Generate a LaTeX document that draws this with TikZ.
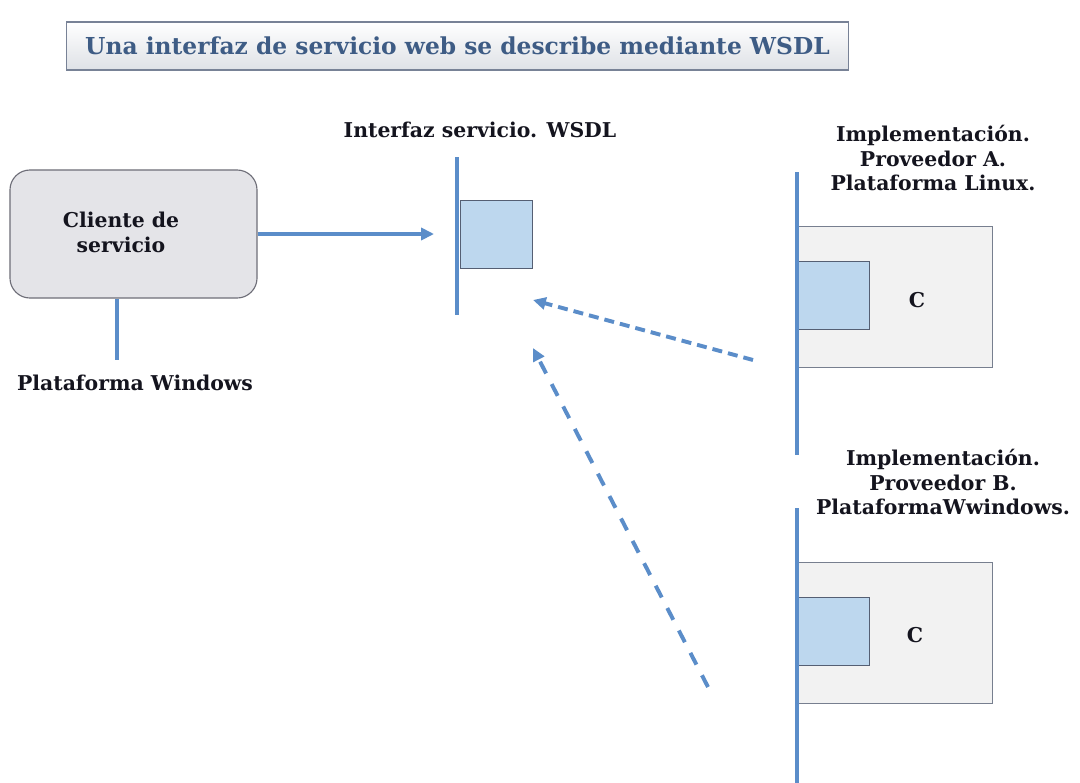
\documentclass[tikz,border=0pt]{standalone}
\usepackage{fontspec}
\setmainfont{DejaVu Serif}
\usetikzlibrary{positioning, arrows.meta, shapes}

\definecolor{linea}{RGB}{91,141,201}
\definecolor{cuadro}{RGB}{189,215,238}
\definecolor{borde}{RGB}{85,95,115}
\definecolor{caja}{RGB}{242,242,242}
\definecolor{cliente}{RGB}{228,228,232}
\definecolor{azultitulo}{RGB}{62,92,133}

\begin{document}
\begin{tikzpicture}[x=0.025cm, y=-0.025cm,
	texto/.style={font=\bfseries\fontsize{14.5}{17.7}\selectfont, align=center, text={rgb,255:red,20;green,20;blue,30}, inner sep=0pt},
	barra/.style={draw=linea, line width=2.8pt},
	flecha/.style={draw=linea, line width=2.8pt, -{Triangle[length=0.32cm, width=0.3cm]}},
	discontinua/.style={flecha, dash pattern=on 0.25cm off 0.15cm},
	interfaz/.style={draw=borde, fill=cuadro, line width=0.7pt, minimum width=1.8cm, minimum height=1.7cm, inner sep=0pt},
	impl/.style={draw=borde!80, fill=caja, line width=0.7pt, minimum width=4.875cm, minimum height=3.5cm, inner sep=0pt}]
\useasboundingbox (0,0) rectangle (1080,783);

% titulo
\node[draw={rgb,255:red,120;green,130;blue,150}, line width=0.8pt, top color=white, bottom color={rgb,255:red,222;green,225;blue,230},
	minimum width=19.525cm, minimum height=1.2cm, font=\bfseries\fontsize{16.6}{19}\selectfont, text=azultitulo] (titulo) at (457.5,46)
	{Una interfaz de servicio web se describe mediante WSDL};

% cliente
\node[draw={rgb,255:red,110;green,110;blue,120}, fill=cliente, line width=0.8pt, rounded corners=0.5cm,
	minimum width=6.175cm, minimum height=3.2cm] (cli) at (133.5,234) {};
\node[texto] (clitxt) at (121,232) {Cliente de\\servicio};
\coordinate (winx) at (117,360);
\draw[barra] (winx |- cli.south) -- (winx);
\node[texto] (plataforma) at (135,383) {Plataforma Windows};

% WSDL
\node[interfaz] (wsdl) at (496,234) {};
\coordinate (wsdlarriba) at (457,157);
\coordinate (wsdlabajo) at (457,315);
\draw[barra] (wsdlarriba) -- (wsdlabajo);
\node[texto] (wsdltxt) at (480,130) {Interfaz servicio. WSDL};
\coordinate (llegada) at (434,234);
\draw[flecha] (cli.east) -- (llegada);

% Proveedor A
\node[impl] (implA) at (894.5,297) {};
\node[interfaz] (intA) at (833,295) {};
\coordinate (Aarriba) at (797,172);
\coordinate (Aabajo) at (797,455);
\draw[barra] (Aarriba) -- (Aabajo);
\node[texto] (cA) at (917,300) {C};
\node[texto] (txtA) at (933,158) {Implementación.\\Proveedor A.\\Plataforma Linux.};

% Proveedor B
\node[impl] (implB) at (894.5,633) {};
\node[interfaz] (intB) at (833,631) {};
\coordinate (Barriba) at (797,508);
\coordinate (Babajo) at (797,783);
\draw[barra] (Barriba) -- (Babajo);
\node[texto] (cB) at (915,635) {C};
\node[texto] (txtB) at (943,482) {Implementación.\\Proveedor B.\\PlataformaWwindows.};

% implementaciones -> interfaz
\coordinate (salidaA) at (753,360);
\coordinate (puntaA) at (533,300);
\coordinate (salidaB) at (708,687);
\coordinate (puntaB) at (533,348);
\draw[discontinua] (salidaA) -- (puntaA);
\draw[discontinua, dash pattern=on 0.33cm off 0.3cm] (salidaB) -- (puntaB);
\end{tikzpicture}
\end{document}
